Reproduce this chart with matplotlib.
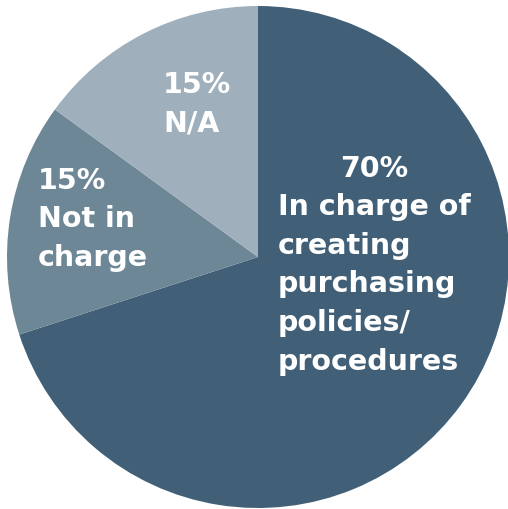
import matplotlib
matplotlib.use("Agg")
import matplotlib.pyplot as plt

labels = [["In charge of", "creating", "purchasing", "policies/", "procedures"],
          ["Not in", "charge"],
          ["N/A"]]
shares = [70, 15, 15]
colors = ["#416077", "#6E8797", "#9FB0BC"]

R_PX = 251.0
CX, CY = 258.0, 258.0
LINE_PX = 38.5


def _to_data(px, py):
    return (px - CX) / R_PX, (CY - py) / R_PX


fig = plt.figure(figsize=(5.08, 5.10), dpi=100)
ax = fig.add_axes([0, 0, 1, 1])
ax.pie(shares, colors=colors, startangle=90, counterclock=False, radius=1.0,
       wedgeprops=dict(linewidth=0))
ax.set_aspect("auto")
ax.set_xlim(-CX / R_PX, (508 - CX) / R_PX)
ax.set_ylim(-(510 - CY) / R_PX, CY / R_PX)
ax.axis("off")

font = dict(color="white", fontsize=20.5, fontweight="bold", family="DejaVu Sans", va="baseline")


def _stack(lines, left_px, base_px):
    for i, line in enumerate(lines):
        x, y = _to_data(left_px, base_px + i * LINE_PX)
        ax.text(x, y, line, ha="left", **font)


# big slice: percentage centred over the left-aligned description
x, y = _to_data(374, 177)
ax.text(x, y, f"{shares[0]}%", ha="center", **font)
_stack(labels[0], 278, 177 + LINE_PX)

_stack([f"{shares[1]}%"] + labels[1], 38, 189)
_stack([f"{shares[2]}%"] + labels[2], 163, 93)

fig.savefig("out.png", dpi=100)
